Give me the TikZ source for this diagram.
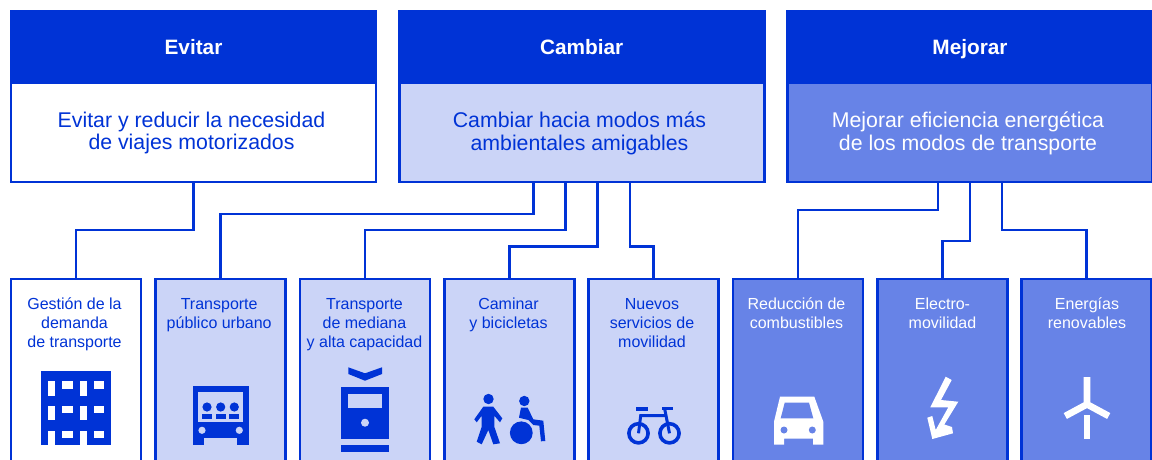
\documentclass[tikz,border=0pt]{standalone}
\usepackage{fontspec}
\setmainfont{Liberation Sans}
\usepackage{xcolor}
\definecolor{ink}{HTML}{0033D6}
\definecolor{pale}{HTML}{CBD4F7}
\definecolor{mid}{HTML}{6783E7}

\tikzset{
    head/.style={rectangle, fill=ink, draw=ink, line width=2.7pt, outer sep=0pt, minimum width=365pt, minimum height=71pt, text=white, font=\fontsize{20.8}{24}\selectfont\bfseries, text height=15pt, text depth=0pt},
    goal/.style={rectangle, draw=ink, line width=2.7pt, outer sep=0pt, minimum width=365pt, minimum height=99pt},
    mode/.style={rectangle, draw=ink, line width=2.7pt, outer sep=0pt, minimum width=130pt, minimum height=210pt, anchor=north},
    goaltext/.style={anchor=north, inner sep=0pt, align=center, font=\fontsize{21.3}{21.5}\selectfont},
    modetext/.style={anchor=north, inner sep=0pt, align=center, font=\fontsize{16}{19}\selectfont},
    link/.style={draw=ink, line width=2.7pt}
}

\begin{document}
\begin{tikzpicture}[x=1pt, y=-1pt]
    \useasboundingbox (0, 0) rectangle (1152, 459);
    \clip (0, 0) rectangle (1152, 459);

    % top row
    \node[head] at (193.5, 46.5) (evitar) {Evitar};
    \node[head] at (581.7, 46.5) (cambiar) {Cambiar};
    \node[head] at (970, 46.5) (mejorar) {Mejorar};

    \node[goal, fill=white] at (193.5, 132.5) (gevitar) {};
    \node[goal, fill=pale] at (581.7, 132.5) (gcambiar) {};
    \node[goal, fill=mid] at (970, 132.5) (gmejorar) {};

    \node[goaltext, text=ink] at (191.5, 111.4) (tevitar) {\strut Evitar y reducir la necesidad\\de viajes motorizados};
    \node[goaltext, text=ink] at (579.5, 111.4) (tcambiar) {\strut Cambiar hacia modos más\\ambientales amigables};
    \node[goaltext, text=white] at (968, 111.4) (tmejorar) {\strut Mejorar eficiencia energética\\de los modos de transporte};

    % bottom row
    \node[mode, fill=white] at (76, 279) (gestion) {};
    \node[mode, fill=pale] at (220.3, 279) (publico) {};
    \node[mode, fill=pale] at (365, 279) (mediana) {};
    \node[mode, fill=pale] at (509.3, 279) (caminar) {};
    \node[mode, fill=pale] at (653.5, 279) (nuevos) {};
    \node[mode, fill=mid] at (798, 279) (reduccion) {};
    \node[mode, fill=mid] at (942.3, 279) (electro) {};
    \node[mode, fill=mid] at (1086.8, 279) (energias) {};

    \node[modetext, text=ink] at (74.5, 296) (lgestion) {\strut Gestión de la\\demanda\\de transporte};
    \node[modetext, text=ink] at (219.2, 296) (lpublico) {\strut Transporte\\público urbano};
    \node[modetext, text=ink] at (364.5, 296) (lmediana) {\strut Transporte\\de mediana\\y alta capacidad};
    \node[modetext, text=ink] at (508.5, 296) (lcaminar) {\strut Caminar\\y bicicletas};
    \node[modetext, text=ink] at (652, 296) (lnuevos) {\strut Nuevos\\servicios de\\movilidad};
    \node[modetext, text=white] at (796.5, 296) (lreduccion) {\strut Reducción de\\combustibles};
    \node[modetext, text=white] at (942.5, 296) (lelectro) {\strut Electro-\\movilidad};
    \node[modetext, text=white] at (1087, 296) (lenergias) {\strut Energías\\renovables};

    % connectors
    \draw[link] (gevitar.south) -- ++(0, 48) -| (gestion.north);
    \draw[link] ([xshift=-48.4pt]gcambiar.south) -- ++(0, 32) -| (publico.north);
    \draw[link] ([xshift=-16.4pt]gcambiar.south) -- ++(0, 48) -| (mediana.north);
    \draw[link] ([xshift=16pt]gcambiar.south) -- ++(0, 64.7) -| (caminar.north);
    \draw[link] ([xshift=48.3pt]gcambiar.south) -- ++(0, 64.7) -| (nuevos.north);
    \draw[link] ([xshift=-32pt]gmejorar.south) -- ++(0, 28) -| (reduccion.north);
    \draw[link] (gmejorar.south) -- ++(0, 59) -| (electro.north);
    \draw[link] ([xshift=32pt]gmejorar.south) -- ++(0, 48) -| (energias.north);

    % building
    \fill[ink] (41.3, 371) rectangle (111.3, 444.7);
    \foreach \y in {381.3, 406} {
        \fill[white] (48, \y) rectangle (55.3, \y+14.4);
        \fill[white] (79.7, \y) rectangle (87, \y+14.4);
    }
    \fill[white] (48, 430.7) rectangle (55.3, 445);
    \fill[white] (79.7, 430.7) rectangle (87, 445);
    \foreach \y in {381.3, 406, 430.7} {
        \fill[white] (62, \y) rectangle (72.7, \y+7.3);
        \fill[white] (93.7, \y) rectangle (104.3, \y+7.3);
    }

    % bus
    \fill[ink] (192.7, 386.3) rectangle (248.7, 444.7);
    \fill[pale] (198, 392) rectangle (243.3, 421.7);
    \fill[pale] (204, 438.3) rectangle (237.3, 445);
    \fill[pale] (202, 430.3) circle (3.6) (239.3, 430.3) circle (3.6);
    \foreach \x in {207, 220.7, 234.3} {
        \fill[ink] (\x, 407) circle (4.6);
        \fill[ink] (\x-5, 414) rectangle (\x+5, 419);
    }

    % train
    \fill[ink] (348.3, 367.3) -- (365, 373.3) -- (382, 367.3) -- (382, 374) -- (365, 380.7) -- (348.3, 374) -- cycle;
    \fill[ink] (341.3, 387) rectangle (388.7, 438.7);
    \fill[pale] (348.3, 394) rectangle (382, 407.7);
    \fill[pale] (365, 422.7) circle (4);
    \fill[ink] (341.3, 445) rectangle (388.7, 451.7);

    % walker and wheelchair
    \fill[ink] (488.5, 399) circle (5.2);
    \fill[ink] (483.3, 406.7) -- (493.3, 406.7) -- (502.3, 418.3) -- (500, 422.3) -- (494.3, 415.7) -- (494.3, 426.7) -- (500, 443.3) -- (493.3, 444.3) -- (488.3, 430) -- (481.7, 444.3) -- (476.7, 441.7) -- (481.7, 426.7) -- (481.7, 415.7) -- (476.7, 422.3) -- (474.3, 419.3) -- cycle;
    \fill[ink] (524.3, 401) circle (5.2);
    \fill[ink] (521.3, 432.8) circle (11.4);
    \fill[ink] (521, 407.7) -- (527.7, 407.7) -- (533.3, 419.3) -- (543.3, 420.7) -- (545.3, 441) -- (541, 441.3) -- (539.3, 425.7) -- (533.3, 425) -- (528.3, 420) -- (519, 417.7) -- cycle;

    % bicycle
    \draw[ink, line width=3.6pt] (638.5, 433.3) circle (9.6) (669.5, 433.3) circle (9.6);
    \draw[ink, line width=3pt] (638.5, 433.3) -- (640.7, 415.7) -- (666.5, 415.7);
    \draw[ink, line width=3pt] (669.5, 433.3) -- (664.5, 408);
    \fill[ink] (636, 407.3) rectangle (648, 411);
    \fill[ink] (662, 406.7) rectangle (673.3, 410);

    % car
    \fill[white] (780, 396.7) -- (814.3, 396.7) -- (823.3, 421.7) -- (823.3, 444.5) -- (813, 444.5) -- (813, 438.7) -- (784, 438.7) -- (784, 444.5) -- (774, 444.5) -- (774, 421.7) -- cycle;
    \fill[mid] (784.7, 402.7) -- (809, 402.7) -- (813.3, 418.3) -- (780.7, 418.3) -- cycle;
    \fill[mid] (784, 430) circle (3.5) (812.3, 430) circle (3.5);

    % bolt
    \fill[white] (945.7, 376.7) -- (951.7, 380) -- (941, 400) -- (958.3, 401.7) -- (944.3, 424.5) -- (952, 427) -- (953, 433.3) -- (932.3, 439) -- (927.3, 417.7) -- (932.3, 416) -- (935.7, 430) -- (948.3, 407.3) -- (930.3, 407.3) -- cycle;

    % turbine
    \draw[white, line width=6.7pt] (1087, 377) -- (1087, 404.3) (1065.3, 416) -- (1087, 404.3) -- (1108.7, 416);
    \draw[white, line width=6.7pt] (1087, 415) -- (1087, 439);
\end{tikzpicture}
\end{document}
